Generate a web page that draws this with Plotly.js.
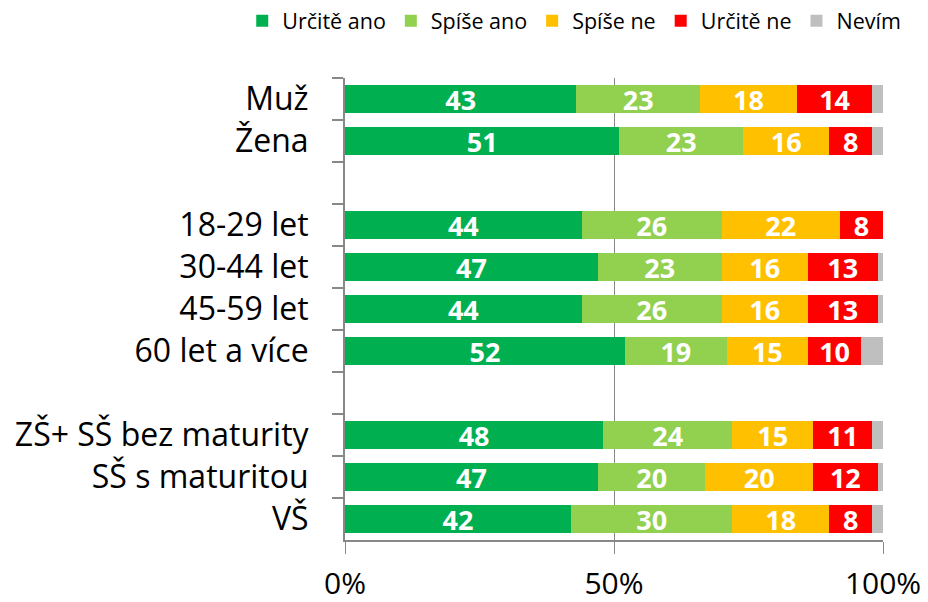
<!DOCTYPE html>
<html>
<head>
<meta charset="utf-8">
<script src="https://cdn.plot.ly/plotly-3.0.1.min.js"></script>
<style>html,body{margin:0;padding:0;background:#fff;}#chart{width:928px;height:602px;}</style>
</head>
<body>
<div id="chart"></div>
<script>
// Categories (top to bottom), blank entries are the gaps between groups
const categoryOrder = ["Muž", "Žena", " ", "18-29 let", "30-44 let", "45-59 let", "60 let a více", "  ", "ZŠ+ SŠ bez maturity", "SŠ s maturitou", "VŠ"];
const categories = ["Muž", "Žena", "18-29 let", "30-44 let", "45-59 let", "60 let a více", "ZŠ+ SŠ bez maturity", "SŠ s maturitou", "VŠ"];

const seriesNames = ["Určitě ano", "Spíše ano", "Spíše ne", "Určitě ne", "Nevím"];
const urciteAno = [43, 51, 44, 47, 44, 52, 48, 47, 42];
const spiseAno  = [23, 23, 26, 23, 26, 19, 24, 20, 30];
const spiseNe   = [18, 16, 22, 16, 16, 15, 15, 20, 18];
const urciteNe  = [14,  8,  8, 13, 13, 10, 11, 12,  8];
const nevim     = [ 2,  2,  0,  1,  1,  4,  2,  1,  2];

const xTickVals = [0, 50, 100];
const xTickText = ["0%", "50%", "100%"];

const colors = ["#00B050", "#92D050", "#FFC000", "#FF0000", "#BFBFBF"];
const FONT = "'Open Sans', Lato, sans-serif";

const allSeries = [urciteAno, spiseAno, spiseNe, urciteNe, nevim];
const traces = allSeries.map((vals, i) => ({
  type: "bar",
  orientation: "h",
  name: seriesNames[i],
  y: categories,
  x: vals,
  marker: {color: colors[i], line: {width: 0}},
  text: i < 4 ? vals.map(String) : vals.map(() => ""),
  textposition: i < 4 ? "inside" : "none",
  insidetextanchor: "middle",
  textangle: 0,
  textfont: {family: FONT, size: 27, color: "#ffffff", weight: "bold"},
  hoverinfo: "name+x"
}));

const layout = {
  width: 928,
  height: 602,
  margin: {l: 345, r: 45, t: 78, b: 62, autoexpand: false},
  barmode: "stack",
  bargap: 0.33,
  paper_bgcolor: "#ffffff",
  plot_bgcolor: "#ffffff",
  font: {family: FONT, color: "#000000"},
  uniformtext: {mode: "show", minsize: 27},
  showlegend: true,
  legend: {
    orientation: "h",
    x: -0.191, xanchor: "left",
    y: 1.168, yanchor: "top",
    font: {family: FONT, size: 21.5, color: "#000"},
    itemwidth: 30,
    traceorder: "normal",
    tracegroupgap: 0
  },
  xaxis: {
    range: [0, 100],
    tickvals: xTickVals,
    ticktext: xTickText,
    showgrid: true,
    gridcolor: "#888888",
    gridwidth: 1,
    zeroline: false,
    showline: true,
    linecolor: "#888888",
    linewidth: 1.5,
    ticks: "outside",
    ticklen: 12,
    tickcolor: "#888888",
    tickfont: {family: FONT, size: 30, color: "#000"},
    ticklabelstandoff: 4,
    automargin: false,
    fixedrange: true
  },
  yaxis: {
    type: "category",
    categoryorder: "array",
    categoryarray: categoryOrder,
    range: [10.5, -0.5],
    showline: true,
    linecolor: "#888888",
    linewidth: 2,
    ticks: "outside",
    tickson: "boundaries",
    ticklen: 11,
    tickcolor: "#888888",
    tickwidth: 1.5,
    showgrid: false,
    tickfont: {family: FONT, size: 32, color: "#000"},
    ticklabelstandoff: 28,
    automargin: false,
    fixedrange: true
  }
};

Plotly.newPlot("chart", traces, layout, {displayModeBar: false, staticPlot: true});
</script>
</body>
</html>
